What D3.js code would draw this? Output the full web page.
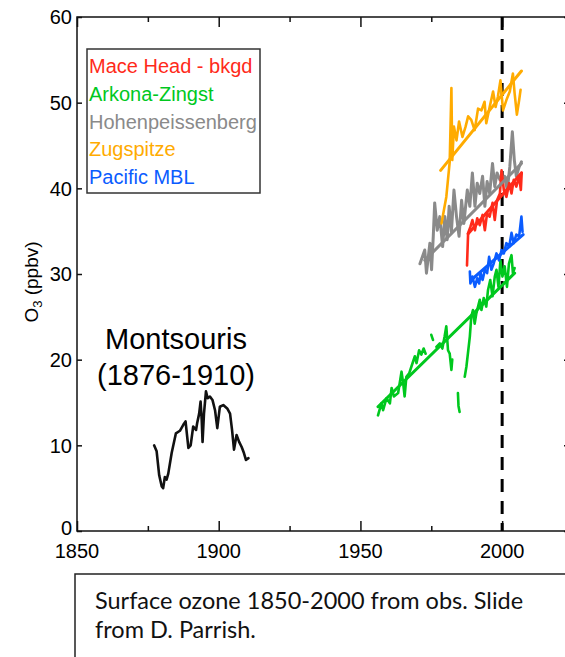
<!DOCTYPE html>
<html>
<head>
<meta charset="utf-8">
<script src="https://cdn.jsdelivr.net/npm/d3@7"></script>
<style>
  body { margin: 0; background: #fff; }
</style>
</head>
<body>
<script>
// series: [year, O3 ppbv]
const montsouris = [[1877.2,10.0],[1878.1,9.3],[1879.0,6.5],[1879.9,5.2],[1880.4,5.0],[1881.0,6.3],[1881.6,6.0],[1882.2,6.7],[1883.4,9.1],[1884.9,11.4],[1886.3,11.7],[1887.5,12.4],[1888.3,12.8],[1889.3,9.7],[1890.1,10.0],[1891.0,12.2],[1892.0,11.8],[1892.4,12.6],[1893.1,13.7],[1893.6,15.1],[1894.0,13.0],[1894.3,10.4],[1894.8,13.7],[1895.5,16.3],[1896.1,15.5],[1896.9,15.7],[1897.8,15.3],[1898.7,14.1],[1899.5,12.0],[1900.4,14.5],[1901.6,14.7],[1903.0,14.3],[1904.0,13.7],[1904.7,11.8],[1905.4,9.5],[1906.3,11.2],[1907.2,10.4],[1908.1,9.8],[1908.9,9.1],[1909.6,8.3],[1910.5,8.5]];

const zugspitze = [[1978.6,35.9],[1979.7,37.9],[1980.3,39.0],[1981.5,43.1],[1982.1,51.7],[1982.4,43.3],[1983.0,47.2],[1983.9,45.6],[1984.8,47.8],[1986.0,46.0],[1987.1,47.2],[1988.0,48.4],[1989.1,48.0],[1990.3,46.8],[1991.5,49.3],[1992.7,49.1],[1993.8,50.1],[1994.4,47.6],[1995.6,49.5],[1996.8,51.3],[1997.7,49.5],[1998.5,50.7],[1999.4,52.6],[2000.3,49.1],[2001.5,50.3],[2002.7,51.3],[2003.8,53.4],[2004.4,51.1],[2005.2,48.6],[2006.0,50.3],[2006.5,51.5]];

const hohenpeissenberg = [[1971.0,31.2],[1972.7,32.8],[1973.3,30.1],[1974.5,33.6],[1975.1,30.5],[1975.7,34.4],[1976.2,38.3],[1977.1,35.1],[1978.0,36.7],[1979.0,33.2],[1979.8,36.7],[1980.6,34.0],[1981.3,37.9],[1982.1,34.9],[1983.0,39.8],[1983.9,36.7],[1984.8,34.4],[1985.7,38.6],[1986.5,35.9],[1987.7,39.8],[1988.6,37.9],[1989.5,41.8],[1990.4,37.9],[1991.2,40.6],[1992.1,39.4],[1993.1,41.4],[1993.9,37.9],[1994.7,40.8],[1995.6,39.4],[1996.6,42.9],[1997.4,40.2],[1998.2,41.8],[1999.2,41.0],[2000.1,40.8],[2000.9,41.4],[2001.8,39.8],[2002.7,42.5],[2003.6,46.6],[2004.3,43.3],[2005.0,41.4],[2006.0,42.5],[2006.8,43.1]];

const maceHead = [[1987.6,31.0],[1988.0,34.8],[1988.8,35.5],[1989.5,36.3],[1990.4,35.1],[1991.2,36.5],[1992.1,35.7],[1993.1,36.9],[1993.9,35.1],[1994.7,37.1],[1995.6,36.7],[1996.6,38.3],[1997.4,36.3],[1998.2,38.6],[1999.2,39.4],[1999.8,42.1],[2000.6,39.8],[2001.5,39.0],[2002.5,40.6],[2003.3,39.4],[2004.1,41.0],[2005.0,40.2],[2006.0,41.4],[2006.6,39.8],[2006.9,41.8]];

const pacificMBL = [[1988.6,30.3],[1988.8,28.9],[1989.5,29.7],[1990.4,28.5],[1991.2,29.5],[1991.9,28.9],[1992.4,30.1],[1993.1,29.3],[1993.9,30.5],[1994.7,30.1],[1995.4,32.0],[1996.2,30.5],[1997.0,31.2],[1998.0,32.4],[1998.9,31.6],[1999.8,32.8],[2000.6,32.4],[2001.5,33.6],[2002.5,33.2],[2003.3,34.8],[2004.1,33.6],[2005.0,34.6],[2006.0,34.4],[2006.8,36.7],[2007.2,34.9]];

// null = gap in record
const arkonaZingst = [[1956.2,13.5],[1957.4,14.9],[1958.0,14.1],[1959.2,15.5],[1960.4,14.9],[1961.0,16.7],[1961.8,15.7],[1963.3,16.1],[1964.5,18.6],[1965.1,17.2],[1965.6,15.7],[1966.2,18.0],[1967.2,18.4],[1968.0,19.2],[1969.2,20.4],[1969.8,19.6],[1970.7,21.1],[1971.5,20.6],[1972.3,21.3],[1973.0,20.7],
  [1974.0,null],[1975.0,22.9],[1975.6,22.3],[1976.2,null],
  [1976.8,21.5],[1978.0,21.9],[1978.9,21.3],[1979.7,22.7],[1980.3,23.9],[1980.9,21.1],[1981.5,20.7],[1982.1,18.8],[1982.4,20.0],
  [1983.5,null],[1984.4,16.1],[1984.6,14.6],[1985.0,13.9],[1985.8,null],
  [1986.8,18.0],[1987.4,19.2],[1988.6,22.7],[1989.1,25.0],[1989.7,25.8],[1990.3,24.2],[1990.9,25.4],[1992.1,27.0],[1992.7,25.8],[1993.5,27.2],[1994.4,26.2],[1995.0,28.1],[1995.8,29.3],[1996.6,27.4],[1997.4,29.7],[1998.0,30.5],[1998.7,28.5],[1999.4,31.6],[2000.1,29.7],[2000.9,30.9],[2001.7,28.5],[2002.4,31.2],[2003.3,32.2],[2003.8,30.1],[2004.4,30.7]];

// fitted trend lines, start and end
const trendZugspitze = [[1978.3,42.1],[2006.8,53.7]];
const trendHohen = [[1972.7,31.6],[2006.8,42.9]];
const trendMace = [[1988.0,34.7],[2006.8,41.8]];
const trendPacific = [[1989.1,29.3],[2007.4,34.6]];
const trendArkona = [[1956.2,14.5],[2004.4,30.1]];

const legendNames = ["Mace Head - bkgd", "Arkona-Zingst", "Hohenpeissenberg", "Zugspitze", "Pacific MBL"];
const legendColors = ["#ff2a1a", "#00c81e", "#8a8a8a", "#ffab00", "#0a5cff"];

const xMajor = [1850, 1900, 1950, 2000];
const xMinor = [1875, 1925, 1975];
const yTicks = [0, 10, 20, 30, 40, 50, 60];
const markYear = 2000;

const W = 565, H = 657;
const svg = d3.select("body").append("svg")
  .attr("width", W)
  .attr("height", H)
  .style("font-family", "'Liberation Sans', Arial, sans-serif");

const x = d3.scaleLinear().domain([1850, 2025]).range([77, 573]);
const y = d3.scaleLinear().domain([0, 60]).range([531, 17]);

// frame
svg.append("rect")
  .attr("x", x(1850)).attr("y", y(60))
  .attr("width", x(2025) - x(1850)).attr("height", y(0) - y(60))
  .attr("fill", "none").attr("stroke", "#111").attr("stroke-width", 1.5);

// axes, ticks pointing inward
svg.append("g").attr("transform", `translate(0,${y(0)})`)
  .call(d3.axisTop(x).tickValues(xMajor).tickSize(10).tickFormat(""))
  .call(g => g.select(".domain").remove());
svg.append("g").attr("transform", `translate(0,${y(0)})`)
  .call(d3.axisTop(x).tickValues(xMinor).tickSize(5).tickFormat(""))
  .call(g => g.select(".domain").remove());
svg.append("g").attr("transform", `translate(0,${y(60)})`)
  .call(d3.axisBottom(x).tickValues(xMajor).tickSize(10).tickFormat(""))
  .call(g => g.select(".domain").remove());
svg.append("g").attr("transform", `translate(0,${y(60)})`)
  .call(d3.axisBottom(x).tickValues(xMinor).tickSize(5).tickFormat(""))
  .call(g => g.select(".domain").remove());
svg.append("g").attr("transform", `translate(${x(1850)},0)`)
  .call(d3.axisRight(y).tickValues(yTicks).tickSize(5).tickFormat(""))
  .call(g => g.select(".domain").remove());
svg.append("g").attr("transform", `translate(${x(2025)},0)`)
  .call(d3.axisLeft(y).tickValues(yTicks).tickSize(9).tickFormat(""))
  .call(g => g.select(".domain").remove());
svg.selectAll(".tick line").attr("stroke", "#111").attr("stroke-width", 1.5);

// tick labels
svg.selectAll(".xlab").data(xMajor).enter().append("text")
  .attr("x", d => x(d)).attr("y", 558)
  .attr("text-anchor", "middle").attr("font-size", "20px").attr("fill", "#000")
  .text(d => d);
svg.selectAll(".ylab").data(yTicks).enter().append("text")
  .attr("x", x(1850) - 5).attr("y", d => d === 0 ? y(d) - 3 : y(d)).attr("dy", "0.36em")
  .attr("text-anchor", "end").attr("font-size", "20px").attr("fill", "#000")
  .text(d => d);

// y title
const yt = svg.append("text")
  .attr("transform", `translate(38,${(y(0) + y(60)) / 2 + 8}) rotate(-90)`)
  .attr("text-anchor", "middle").attr("font-size", "19px").attr("fill", "#000");
yt.append("tspan").text("O");
yt.append("tspan").attr("font-size", "13px").attr("dy", 4).text("3");
yt.append("tspan").attr("dy", -4).text(" (ppbv)");

// dashed 2000 marker
svg.append("line")
  .attr("x1", x(markYear)).attr("x2", x(markYear))
  .attr("y1", y(60)).attr("y2", y(0))
  .attr("stroke", "#000").attr("stroke-width", 3)
  .attr("stroke-dasharray", "13,9");

const line = d3.line()
  .defined(d => d[1] !== null)
  .x(d => x(d[0])).y(d => y(d[1]));

function drawSeries(data, color, width) {
  svg.append("path").datum(data)
    .attr("d", line)
    .attr("fill", "none").attr("stroke", color)
    .attr("stroke-width", width).attr("stroke-linejoin", "round").attr("stroke-linecap", "round");
}

drawSeries(montsouris, "#111", 2.6);
drawSeries(arkonaZingst, legendColors[1], 2.6);
drawSeries(hohenpeissenberg, legendColors[2], 3);
drawSeries(zugspitze, legendColors[3], 2.6);
drawSeries(maceHead, legendColors[0], 2.6);
drawSeries(pacificMBL, legendColors[4], 2.6);

drawSeries(trendArkona, legendColors[1], 3);
drawSeries(trendHohen, legendColors[2], 3);
drawSeries(trendZugspitze, legendColors[3], 3);
drawSeries(trendMace, legendColors[0], 3);
drawSeries(trendPacific, legendColors[4], 3);

// legend
svg.append("rect")
  .attr("x", 87).attr("y", 49).attr("width", 173).attr("height", 144)
  .attr("fill", "#fff").attr("stroke", "#333").attr("stroke-width", 1.5);
svg.selectAll(".leg").data(legendNames).enter().append("text")
  .attr("x", 89).attr("y", (d, i) => 73 + i * 27.8)
  .attr("font-size", "20px").attr("fill", (d, i) => legendColors[i])
  .text(d => d);

// Montsouris label
svg.append("text").attr("x", 176).attr("y", 349)
  .attr("text-anchor", "middle").attr("font-size", "29px").attr("fill", "#000")
  .text("Montsouris");
svg.append("text").attr("x", 176).attr("y", 385)
  .attr("text-anchor", "middle").attr("font-size", "29px").attr("fill", "#000")
  .text("(1876-1910)");

// caption box
svg.append("rect")
  .attr("x", 75).attr("y", 574).attr("width", 520).attr("height", 120)
  .attr("fill", "#fff").attr("stroke", "#222").attr("stroke-width", 1.5);
svg.append("text").attr("x", 95).attr("y", 609)
  .attr("font-family", "Lato, 'Open Sans', sans-serif").attr("font-size", "23.5px").attr("fill", "#111")
  .text("Surface ozone 1850-2000 from obs. Slide");
svg.append("text").attr("x", 95).attr("y", 638)
  .attr("font-family", "Lato, 'Open Sans', sans-serif").attr("font-size", "23.5px").attr("fill", "#111")
  .text("from D. Parrish.");
</script>
</body>
</html>
